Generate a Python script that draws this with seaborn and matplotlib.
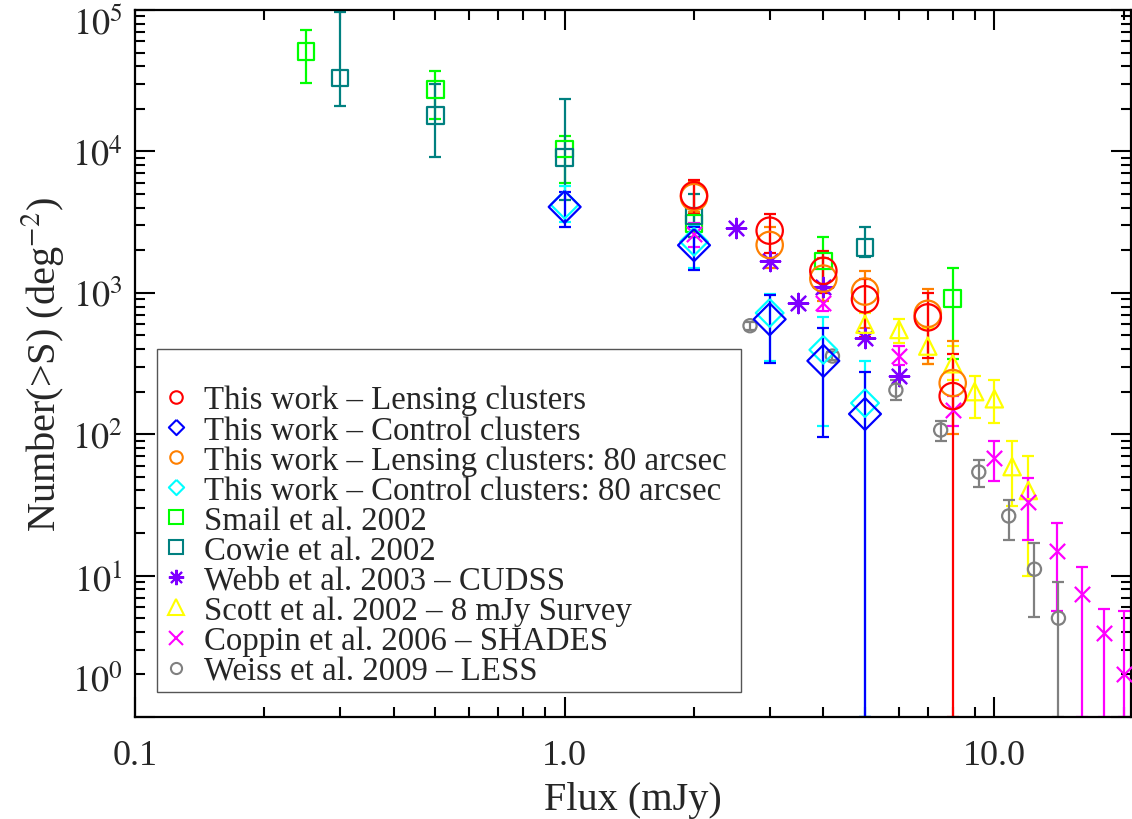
import numpy as np
import matplotlib
matplotlib.use("Agg")
import matplotlib.pyplot as plt
import matplotlib.ticker as mticker
import matplotlib.transforms as mtransforms
from matplotlib.lines import Line2D
from matplotlib.patches import Rectangle
import seaborn as sns

# ---- Cumulative source counts N(>S) [deg^-2] vs flux S [mJy] ----
# This work - lensing clusters
lens_s = [2, 3, 4, 5, 7, 8]
lens_n = [4900, 2750, 1430, 900, 670, 186]
lens_hi = [6300, 3600, 1990, 1260, 1000, 370]
lens_lo = [3600, 1900, 1000, 490, 345, 1.0]

# This work - control clusters
ctrl_s = [1, 2, 3, 4, 5]
ctrl_n = [4050, 2170, 650, 330, 139]
ctrl_hi = [5150, 2900, 960, 560, 275]
ctrl_lo = [2900, 1450, 320, 95, 1.0]

# This work - lensing clusters, 80 arcsec
lens80_s = [2, 3, 4, 5, 7, 8]
lens80_n = [4750, 2180, 1260, 1020, 710, 230]
lens80_hi = [6100, 2900, 1750, 1420, 1060, 455]
lens80_lo = [3700, 1500, 880, 560, 315, 100]

# This work - control clusters, 80 arcsec
ctrl80_s = [1, 2, 3, 4, 5]
ctrl80_n = [4200, 2300, 720, 395, 166]
ctrl80_hi = [5650, 3000, 975, 670, 330]
ctrl80_lo = [3150, 1500, 330, 114, 1.0]

# Smail et al. 2002
smail_s = [0.25, 0.5, 1, 2, 4, 8]
smail_n = [51000, 27500, 10400, 3100, 1680, 915]
smail_hi = [72000, 37000, 12900, 3700, 2500, 1500]
smail_lo = [30500, 17000, 6000, 2500, 1100, 340]

# Cowie et al. 2002
cowie_s = [0.3, 0.5, 1, 2, 5]
cowie_n = [33000, 18000, 9100, 3500, 2100]
cowie_hi = [97000, 30000, 23400, 5000, 2900]
cowie_lo = [21000, 9100, 4500, 2500, 1780]

# Webb et al. 2003 - CUDSS
webb_s = [2.5, 3, 3.5, 4, 5, 6]
webb_n = [2880, 1690, 850, 1100, 480, 260]

# Scott et al. 2002 - 8 mJy Survey
scott_s = [5, 6, 7, 8, 9, 10, 11, 12]
scott_n = [600, 550, 420, 315, 200, 178, 59, 40]
scott_hi = [720, 650, 560, 420, 260, 240, 90, 70]
scott_lo = [470, 440, 315, 240, 130, 120, 31, 10]

# Coppin et al. 2006 - SHADES
coppin_s = [2, 4, 6, 8, 10, 12, 14, 16, 18, 20]
coppin_n = [2600, 850, 360, 148, 68, 33, 14.9, 7.4, 3.9, 2.0]
coppin_hi = [3100, 1030, 420, 186, 90, 49, 23.5, 11.5, 5.8, 5.6]
coppin_lo = [2100, 740, 310, 114, 47, 18, 5.6, 1.0, 1.0, 1.0]

# Weiss et al. 2009 - LESS
weiss_s = [2.7, 4.2, 5.9, 7.5, 9.2, 10.8, 12.4, 14.1]
weiss_n = [585, 357, 205, 107, 54, 26.4, 11.1, 5.0]
weiss_hi = [620, 380, 240, 124, 66, 34, 17, 9]
weiss_lo = [550, 335, 175, 90, 42, 18, 5.1, 1.0]

x_tick_vals = [0.1, 1.0, 10.0]
x_tick_labels = ["0.1", "1.0", "10.0"]
y_tick_vals = [1, 10, 100, 1000, 10000, 100000]
y_tick_labels = [r"$10^{%d}$" % k for k in range(6)]

sns.set_theme(style="ticks")
plt.rcParams["font.family"] = ["Liberation Serif", "DejaVu Serif"]
plt.rcParams["mathtext.fontset"] = "stix"

fig = plt.figure(figsize=(11.32, 8.2), dpi=100)
ax = fig.add_axes([135 / 1132, 1 - 718 / 820, 996 / 1132, 707 / 820])

LW = 1.6
ASTER = (8, 2, 0)
DIAMOND = [(0, 1), (1, 0), (0, -1), (-1, 0), (0, 1)]


def series(s, n, color, marker, size, hi=None, lo=None, filled_line=False):
    s = np.asarray(s, float)
    n = np.asarray(n, float)
    if hi is not None:
        err = [n - np.asarray(lo, float), np.asarray(hi, float) - n]
        ax.errorbar(s, n, yerr=err, fmt="none", ecolor=color,
                    elinewidth=LW, capsize=4.5, capthick=LW, zorder=2)
    kw = dict(x=s, y=n, marker=marker, s=size ** 2, linewidth=LW,
              ax=ax, legend=False, zorder=3)
    if filled_line:
        sns.scatterplot(color=color, **kw)
    else:
        sns.scatterplot(color=color, facecolor="none", edgecolor=color, **kw)


series(smail_s, smail_n, "#00ff00", "s", 12, smail_hi, smail_lo)
series(cowie_s, cowie_n, "#008080", "s", 12, cowie_hi, cowie_lo)
series(webb_s, webb_n, "#7f00ff", ASTER, 14, filled_line=True)
series(scott_s, scott_n, "#ffff00", "^", 12.5, scott_hi, scott_lo)
series(coppin_s, coppin_n, "#ff00ff", "x", 11, coppin_hi, coppin_lo, filled_line=True)
series(weiss_s, weiss_n, "#808080", "o", 9.5, weiss_hi, weiss_lo)
series(lens80_s, lens80_n, "#ff8000", "o", 19, lens80_hi, lens80_lo)
series(ctrl80_s, ctrl80_n, "#00ffff", DIAMOND, 20, ctrl80_hi, ctrl80_lo)
series(lens_s, lens_n, "#ff0000", "o", 19, lens_hi, lens_lo)
series(ctrl_s, ctrl_n, "#0000ff", DIAMOND, 23, ctrl_hi, ctrl_lo)

ax.set_xscale("log")
ax.set_yscale("log")
ax.set_xlim(0.1, 20.8)
ax.set_ylim(1, 1e5)

ax.xaxis.set_major_locator(mticker.FixedLocator(x_tick_vals))
ax.xaxis.set_major_formatter(mticker.FixedFormatter(x_tick_labels))
ax.xaxis.set_minor_locator(mticker.LogLocator(base=10, subs=np.arange(2, 10)))
ax.xaxis.set_minor_formatter(mticker.NullFormatter())
ax.yaxis.set_major_locator(mticker.FixedLocator(y_tick_vals))
ax.yaxis.set_major_formatter(mticker.FixedFormatter(y_tick_labels))
ax.yaxis.set_minor_locator(mticker.LogLocator(base=10, subs=np.arange(2, 10)))
ax.yaxis.set_minor_formatter(mticker.NullFormatter())

ax.tick_params(which="both", direction="in", top=True, right=True,
               width=1.5, color="black", labelsize=26)
ax.tick_params(axis="x", which="major", pad=16)
ax.tick_params(axis="y", which="major", pad=9)
ax.tick_params(which="major", length=14.4)
ax.tick_params(which="minor", length=7.2)
for sp in ax.spines.values():
    sp.set_linewidth(1.6)
    sp.set_color("black")

# Keep the end labels of the y axis inside the frame
yticks = ax.yaxis.get_major_ticks()
shift_px = {0: 40, 5: -10}
for i, dy in shift_px.items():
    lbl = yticks[i].label1
    lbl.set_transform(lbl.get_transform() +
                      mtransforms.ScaledTranslation(0, dy / 100, fig.dpi_scale_trans))

ax.set_xlabel("Flux (mJy)", fontsize=29, labelpad=6)
ax.set_ylabel(r"Number(>S) (deg$^{-2}$)", fontsize=29, labelpad=4)

# Legend box
ax.add_patch(Rectangle((0.0221, 0.0354), 0.5863, 0.4851, transform=ax.transAxes,
                       facecolor="white", edgecolor="#555555", linewidth=1.0, zorder=4))

legend_items = [
    ("This work \u2013 Lensing clusters", "#ff0000", "o", 9),
    ("This work \u2013 Control clusters", "#0000ff", DIAMOND, 11),
    ("This work \u2013 Lensing clusters: 80 arcsec", "#ff8000", "o", 9),
    ("This work \u2013 Control clusters: 80 arcsec", "#00ffff", DIAMOND, 11),
    ("Smail et al. 2002", "#00ff00", "s", 10),
    ("Cowie et al. 2002", "#008080", "s", 10),
    ("Webb et al. 2003 \u2013 CUDSS", "#7f00ff", ASTER, 11),
    ("Scott et al. 2002 \u2013 8 mJy Survey", "#ffff00", "^", 11),
    ("Coppin et al. 2006 \u2013 SHADES", "#ff00ff", "x", 10),
    ("Weiss et al. 2009 \u2013 LESS", "#808080", "o", 8),
]
handles = []
labels = []
for lab, c, m, ms in legend_items:
    handles.append(Line2D([], [], linestyle="none", marker=m, markersize=ms,
                          markerfacecolor="none", markeredgecolor=c,
                          markeredgewidth=1.5, color=c))
    labels.append(lab)
leg = ax.legend(handles, labels, loc="upper left",
                bbox_to_anchor=((160 - 135) / 996, (718 - 386) / 707),
                frameon=False, fontsize=23.7, handlelength=1.0,
                handletextpad=0.35, labelspacing=-0.013, borderpad=0,
                borderaxespad=0)
leg.set_zorder(5)

fig.savefig("out.png", dpi=100)
